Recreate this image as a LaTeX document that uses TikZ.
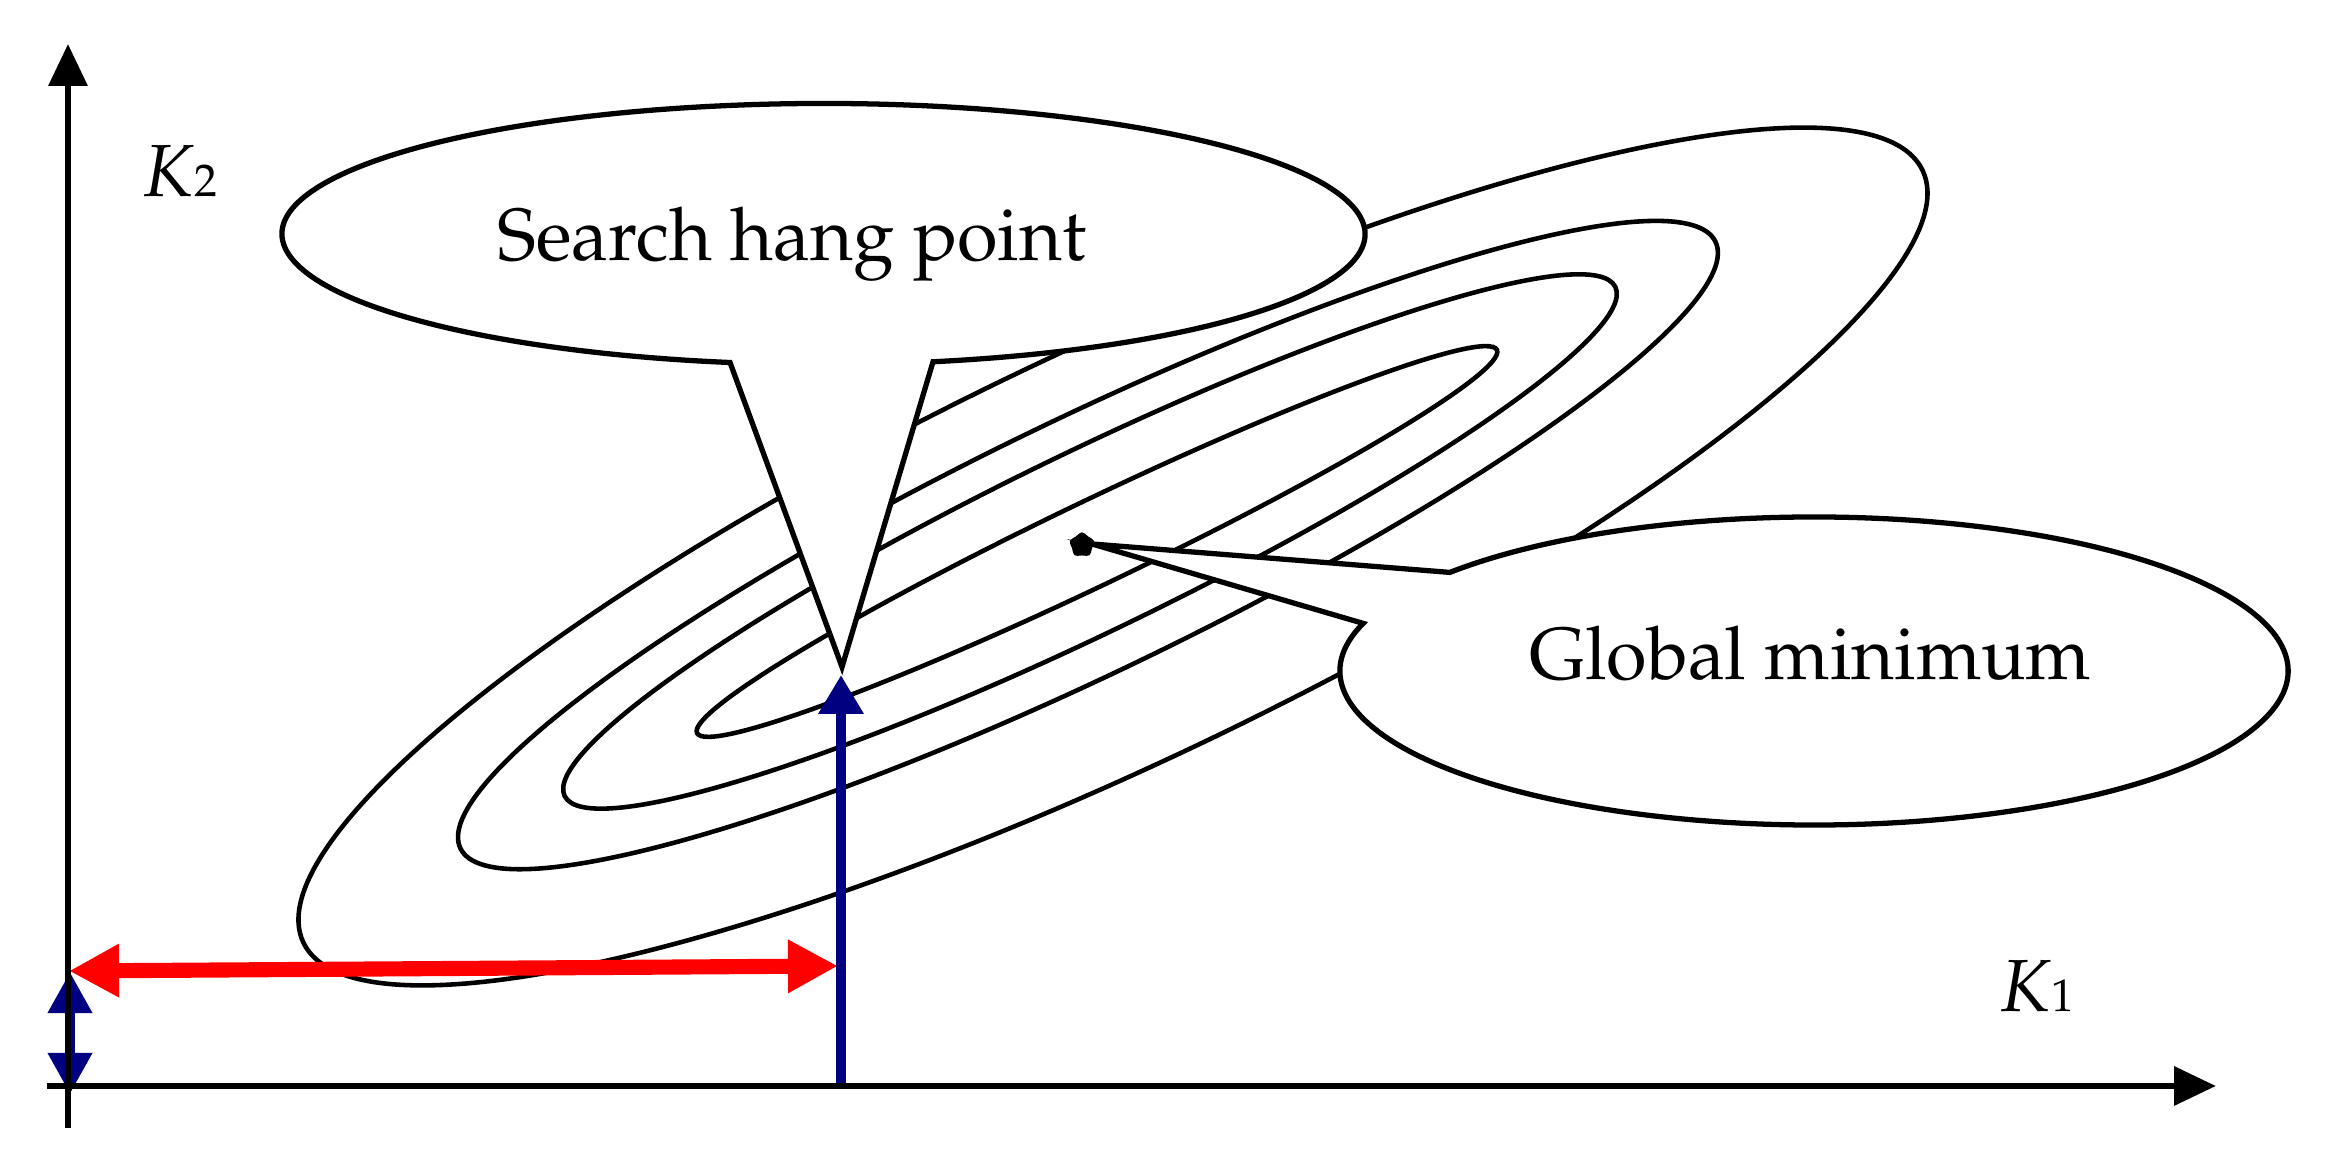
\documentclass[tikz,border=0pt]{standalone}
\usepackage[T1]{fontenc}
\usepackage{mathpazo}
\usetikzlibrary{arrows.meta,shapes.geometric,calc}
\definecolor{navyblue}{RGB}{0,0,128}
\begin{document}
\begin{tikzpicture}[x=0.01cm,y=0.01cm,
  contour/.style={line width=1.3pt},
  callout/.style={draw=black, fill=white, line width=1.5pt, line join=miter},
  axisline/.style={line width=1.9pt, -{Triangle[length=0.42cm,width=0.38cm]}},
  bluearrow/.style={navyblue, line width=2.8pt},
  lbl/.style={inner sep=0pt, font=\fontsize{21pt}{25pt}\selectfont},
]
\useasboundingbox (0,0) rectangle (2327,1171);
% contour ellipses
\coordinate (c1) at (1113,614.5);
\coordinate (c2) at (1088,626);
\coordinate (c3) at (1090,629.5);
\coordinate (c4) at (1097,629.5);
\draw[contour, rotate around={25.5:(c1)}] (c1) ellipse [x radius=897, y radius=206.6];
\draw[contour, rotate around={25.8:(c2)}] (c2) ellipse [x radius=697, y radius=126.7];
\draw[contour, rotate around={25.85:(c3)}] (c3) ellipse [x radius=583.8, y radius=90];
\draw[contour, rotate around={25.6:(c4)}] (c4) ellipse [x radius=443.5, y radius=42];
% callout: search hang point
\coordinate (sc) at (823.5,937);
\coordinate (shtip) at (842,504);
\draw[callout] ($(sc)+(281.67:541.5 and 130.5)$) arc[start angle=281.67, end angle=620.06, x radius=541.5, y radius=130.5] -- (shtip) -- cycle;
% callout: global minimum
\coordinate (gc) at (1814,500);
\coordinate (gmtip) at (1092,627);
\draw[callout] ($(gc)+(162:474 and 154)$) arc[start angle=162, end angle=500.2, x radius=474, y radius=154] -- (gmtip) -- cycle;
\node[star, star points=5, star point ratio=1.45, fill=black, minimum size=0.29cm, inner sep=0pt, rounded corners=1.2pt] (gm) at (1082,626) {};
% texts
\node[lbl, anchor=base] (shtext) at (792,910) {Search hang point};
\node[lbl, anchor=base] (gmtext) at (1810,491) {Global minimum};
% arrows
\coordinate (rl) at (69,200);
\coordinate (rr) at (838,205);
\draw[red, line width=4.3pt, {Triangle[length=0.5cm,width=0.5cm]}-{Triangle[length=0.5cm,width=0.5cm]}] (rl) -- (rr);
\coordinate (bb) at (841,85);
\coordinate (bt) at (841,496);
\draw[bluearrow, -{Triangle[length=0.39cm,width=0.43cm]}] (bb) -- (bt);
\coordinate (sbb) at (70,77);
\coordinate (sbt) at (70,199);
\draw[bluearrow, {Triangle[length=0.41cm,width=0.42cm]}-{Triangle[length=0.41cm,width=0.42cm]}] (sbb) -- (sbt);
% axes
\coordinate (xs) at (47,85);
\coordinate (xe) at (2216,85);
\coordinate (ys) at (68,43);
\coordinate (ye) at (68,1127);
\draw[axisline] (xs) -- (xe);
\draw[axisline] (ys) -- (ye);
% axis labels
\node[lbl, anchor=base west] (k2) at (143,974) {\textit{K}{\fontsize{13pt}{15pt}\selectfont 2}};
\node[lbl, anchor=base west] (k1) at (2000,159) {\textit{K}{\fontsize{13pt}{15pt}\selectfont 1}};
\end{tikzpicture}
\end{document}
